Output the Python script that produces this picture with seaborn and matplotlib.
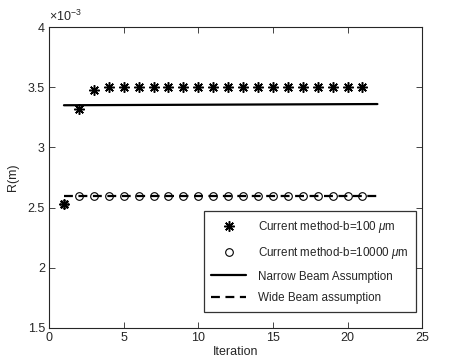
import numpy as np
import pandas as pd
import seaborn as sns
import matplotlib.pyplot as plt
from matplotlib.ticker import FuncFormatter

# data (R in metres)
iter_star = [1, 2, 3, 4, 5, 6, 7, 8, 9, 10, 11, 12, 13, 14, 15, 16, 17, 18, 19, 20, 21]
r_star = [2.53e-3, 3.32e-3, 3.475e-3] + [3.5e-3] * 18
iter_circ = [1, 2, 3, 4, 5, 6, 7, 8, 9, 10, 11, 12, 13, 14, 15, 16, 17, 18, 19, 20, 21]
r_circ = [2.53e-3] + [2.6e-3] * 20
iter_lines = [1, 22]
r_narrow = [3.35e-3, 3.36e-3]
r_wide = [2.595e-3, 2.595e-3]

sns.set_style("ticks")
plt.rcParams['font.family'] = ['Liberation Sans', 'DejaVu Sans']
plt.rcParams['mathtext.fontset'] = 'custom'
plt.rcParams['mathtext.rm'] = 'Liberation Sans'
plt.rcParams['mathtext.it'] = 'Liberation Sans:italic'

fig = plt.figure(figsize=(4.67, 3.6), dpi=100)
ax = fig.add_axes([0.105, 0.089, 0.799, 0.836])

asterisk = (8, 2, 0)
sns.lineplot(x=iter_lines, y=r_narrow, ax=ax, color='black', lw=1.6,
             label='Narrow Beam Assumption', zorder=2)
sns.lineplot(x=iter_lines, y=r_wide, ax=ax, color='black', lw=1.6,
             linestyle=(0, (4, 2.5)), label='Wide Beam assumption', zorder=2)
ax.plot(iter_star, r_star, linestyle='none', marker=asterisk, ms=7.5,
        mec='black', mew=1.1, color='black',
        label=r'Current method-b=100 $\mu$m', zorder=3)
ax.plot(iter_circ, r_circ, linestyle='none', marker='o', ms=5.5,
        mfc='none', mec='black', mew=0.8,
        label=r'Current method-b=10000 $\mu$m', zorder=3)

ax.set_xlim(0, 25)
ax.set_ylim(1.5e-3, 4e-3)
ax.set_xticks([0, 5, 10, 15, 20, 25])
ax.set_yticks([1.5e-3, 2e-3, 2.5e-3, 3e-3, 3.5e-3, 4e-3])
ax.yaxis.set_major_formatter(FuncFormatter(lambda v, p: f"{v * 1e3:g}"))
ax.text(0.0, 1.01, r'$\times$10$^{-3}$', transform=ax.transAxes,
        fontsize=9, color='#262626', ha='left', va='bottom')

ax.tick_params(direction='in', top=True, right=True, labelsize=9, length=4,
               width=0.6, colors='#262626', labelcolor='#262626', pad=3)
for s in ax.spines.values():
    s.set_linewidth(0.8)
    s.set_color('#262626')

ax.set_xlabel('Iteration', fontsize=9, labelpad=1)
ax.set_ylabel('R(m)', fontsize=9, labelpad=6)

handles, labels = ax.get_legend_handles_labels()
order = [2, 3, 0, 1]
leg = ax.legend([handles[i] for i in order], [labels[i] for i in order],
                loc='lower right', bbox_to_anchor=(0.984, 0.053), fontsize=8.4,
                frameon=True, fancybox=False, edgecolor='black',
                borderpad=0.65, labelspacing=0.85, handlelength=3.0,
                handletextpad=1.0, borderaxespad=0.0)
leg.get_frame().set_linewidth(0.9)

fig.savefig('out.png', dpi=100)
